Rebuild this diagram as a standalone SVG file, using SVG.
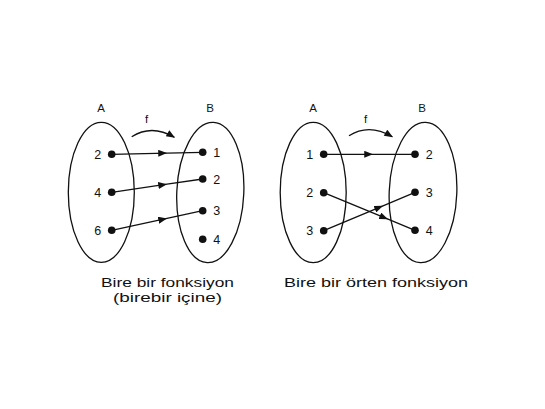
<svg xmlns="http://www.w3.org/2000/svg" width="545" height="409" viewBox="0 0 545 409">
<style>
.set{fill:none;stroke:#111;stroke-width:1.3}
.map{fill:none;stroke:#111;stroke-width:1.3}
.dot{fill:#111}
text{font-family:"Liberation Sans",Arial,sans-serif;fill:#111}
.lbl{font-size:12.5px;text-anchor:middle}
.set-name{font-size:11.5px;text-anchor:middle}
.cap{font-size:13.5px}
</style>
<defs>
<marker id="mid" viewBox="0 0 10 8" refX="10" refY="4" markerWidth="9" markerHeight="7" markerUnits="userSpaceOnUse" orient="auto">
<path d="M0,0 L10,4 L0,8 Z" fill="#111"/>
</marker>
<marker id="end" viewBox="0 0 10 8" refX="9" refY="4" markerWidth="10" markerHeight="7" markerUnits="userSpaceOnUse" orient="auto">
<path d="M0,0 L10,4 L0,8 Z" fill="#111"/>
</marker>
</defs>
<rect width="545" height="409" fill="#fff"/>

<g id="left-A">
<ellipse class="set" cx="101.3" cy="192.3" rx="33" ry="70"/>
<text class="set-name" x="101" y="111.5">A</text>
<circle class="dot" cx="111.7" cy="154.3" r="3.8"/>
<circle class="dot" cx="111.7" cy="192.3" r="3.8"/>
<circle class="dot" cx="111.7" cy="230.3" r="3.8"/>
<text class="lbl" x="97.7" y="158.8">2</text>
<text class="lbl" x="97.7" y="196.8">4</text>
<text class="lbl" x="97.7" y="234.8">6</text>
</g>

<g id="left-B">
<ellipse class="set" cx="210.3" cy="192.5" rx="33.5" ry="70.2" transform="rotate(2.5 210.3 192.5)"/>
<text class="set-name" x="210" y="111.5">B</text>
<circle class="dot" cx="202.7" cy="152.3" r="3.8"/>
<circle class="dot" cx="202.7" cy="179" r="3.8"/>
<circle class="dot" cx="202.7" cy="210.7" r="3.8"/>
<circle class="dot" cx="202.7" cy="239.3" r="3.8"/>
<text class="lbl" x="216.7" y="156.8">1</text>
<text class="lbl" x="216.7" y="183.5">2</text>
<text class="lbl" x="216.7" y="215.2">3</text>
<text class="lbl" x="216.7" y="243.8">4</text>
</g>

<g id="right-A">
<ellipse class="set" cx="313.2" cy="192.5" rx="33" ry="70.2"/>
<text class="set-name" x="313" y="111.5">A</text>
<circle class="dot" cx="323.7" cy="154.3" r="3.8"/>
<circle class="dot" cx="323.7" cy="192.7" r="3.8"/>
<circle class="dot" cx="323.7" cy="230.7" r="3.8"/>
<text class="lbl" x="309.7" y="158.8">1</text>
<text class="lbl" x="309.7" y="197.2">2</text>
<text class="lbl" x="309.7" y="235.2">3</text>
</g>

<g id="right-B">
<ellipse class="set" cx="423" cy="192.5" rx="33.8" ry="70.2" transform="rotate(2.2 423 192.5)"/>
<text class="set-name" x="422" y="111.5">B</text>
<circle class="dot" cx="415" cy="154.3" r="3.8"/>
<circle class="dot" cx="415" cy="192.3" r="3.8"/>
<circle class="dot" cx="415" cy="230.3" r="3.8"/>
<text class="lbl" x="429.3" y="158.8">2</text>
<text class="lbl" x="429.3" y="196.8">3</text>
<text class="lbl" x="429.3" y="234.8">4</text>
</g>

<g id="connectors">
<polyline class="map" points="111.7,154.3 167,153.1 202.7,152.3" marker-mid="url(#mid)"/>
<polyline class="map" points="111.7,192.3 167,184.2 202.7,179" marker-mid="url(#mid)"/>
<polyline class="map" points="111.7,230.3 167,218.4 202.7,210.7" marker-mid="url(#mid)"/>
<path class="map" d="M131.7,136.7 Q152,124 174.3,137.3" marker-end="url(#end)"/>
<text x="146.7" y="123" font-size="11.5" text-anchor="middle">f</text>

<polyline class="map" points="323.7,154.3 373,154.3 415,154.3" marker-mid="url(#mid)"/>
<polyline class="map" points="323.7,192.7 388,219.2 415,230.3" marker-mid="url(#mid)"/>
<polyline class="map" points="323.7,230.7 383,205.8 415,192.3" marker-mid="url(#mid)"/>
<path class="map" d="M349,135.7 Q369,123 392.3,136.7" marker-end="url(#end)"/>
<text x="365.5" y="123" font-size="11.5" text-anchor="middle">f</text>
</g>

<g id="captions">
<text class="cap" x="101" y="286.7" textLength="133" lengthAdjust="spacingAndGlyphs">Bire bir fonksiyon</text>
<text class="cap" x="113" y="302" textLength="109" lengthAdjust="spacingAndGlyphs">(birebir içine)</text>
<text class="cap" x="284" y="286.7" textLength="184" lengthAdjust="spacingAndGlyphs">Bire bir örten fonksiyon</text>
</g>
</svg>
